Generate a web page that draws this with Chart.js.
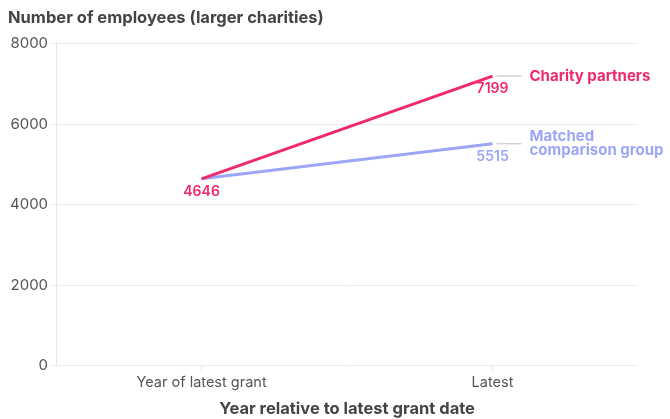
<!DOCTYPE html>
<html>
<head>
<meta charset="utf-8">
<script src="https://cdn.jsdelivr.net/npm/chart.js@4"></script>
<style>
  html, body { margin: 0; padding: 0; background: #fff; }
  #wrap { width: 670px; height: 419px; }
</style>
</head>
<body>
<div id="wrap"><canvas id="employeesChart"></canvas></div>
<script>
const categories = ['Year of latest grant', 'Latest'];
const charityPartners = [4646, 7199];
const matchedGroup = [4646, 5515];
const yTicks = [0, 2000, 4000, 6000, 8000];

const PINK = '#f0296c';
const BLUE = '#9ca6f7';
const FONT = 'Inter, "Open Sans", sans-serif';

// value labels under the points and series names at the right end
const lineLabels = {
    id: 'lineLabels',
    afterDatasetsDraw(chart) {
        const ctx = chart.ctx;
        const x = chart.scales.x;
        const y = chart.scales.y;
        chart.data.datasets.forEach((ds, di) => {
            ctx.save();
            ctx.fillStyle = ds.borderColor;
            ctx.font = '600 14px ' + FONT;
            ctx.textAlign = 'center';
            ctx.textBaseline = 'middle';
            ds.data.forEach((v, i) => {
                if (i === 0 && ds.hideStartLabel) return; // start point shared with partners line
                const px = x.getPixelForValue(i);
                const py = y.getPixelForValue(v);
                ctx.fillText(String(v), px, py + 13);
            });
            // leader line + name
            const last = ds.data.length - 1;
            const ex = x.getPixelForValue(last);
            const ey = y.getPixelForValue(ds.data[last]);
            ctx.strokeStyle = '#bbbbbb';
            ctx.lineWidth = 1;
            ctx.beginPath();
            ctx.moveTo(ex + 4, ey);
            ctx.lineTo(ex + 29, ey);
            ctx.stroke();
            ctx.font = 'bold 15px ' + FONT;
            ctx.textAlign = 'left';
            const lines = ds.nameLines;
            const lh = 14;
            const top = ey - (lines.length - 1) * lh / 2;
            lines.forEach((t, k) => ctx.fillText(t, ex + 37, top + k * lh));
            ctx.restore();
        });
    }
};

new Chart(document.getElementById('employeesChart'), {
    type: 'line',
    data: {
        labels: categories,
        datasets: [
            {
                label: 'Matched comparison group',
                nameLines: ['Matched', 'comparison group'],
                hideStartLabel: true,
                data: matchedGroup,
                borderColor: BLUE,
                borderWidth: 3,
                pointRadius: 0,
                tension: 0,
                order: 2,
            },
            {
                label: 'Charity partners',
                nameLines: ['Charity partners'],
                data: charityPartners,
                borderColor: PINK,
                borderWidth: 3,
                pointRadius: 0,
                tension: 0,
                order: 1,
            },
        ],
    },
    options: {
        responsive: true,
        maintainAspectRatio: false,
        animation: false,
        layout: { padding: { left: 8, right: 32, top: 0, bottom: 0 } },
        plugins: {
            legend: { display: false },
            tooltip: { enabled: false },
            title: {
                display: true,
                text: 'Number of employees (larger charities)',
                align: 'start',
                color: '#444',
                font: { family: FONT, size: 16.5, weight: 'bold' },
                padding: { top: 8, bottom: 16 },
            },
        },
        scales: {
            x: {
                offset: true,
                grid: { drawOnChartArea: false, drawTicks: true, tickLength: 6, color: '#e6e6e6' },
                border: { display: false },
                ticks: { color: '#555', font: { family: FONT, size: 14.5 }, padding: 2 },
                title: {
                    display: true,
                    text: 'Year relative to latest grant date',
                    color: '#444',
                    font: { family: FONT, size: 16.5, weight: 'bold' },
                    padding: { top: 6, bottom: 0 },
                },
            },
            y: {
                min: 0,
                max: 8000,
                afterBuildTicks(axis) {
                    axis.ticks = yTicks.map(v => ({ value: v }));
                },
                grid: { color: '#ececec', tickLength: 6 },
                border: { color: '#e6e6e6' },
                ticks: {
                    color: '#555',
                    font: { family: FONT, size: 15 },
                    padding: 2,
                    callback: v => String(v),
                },
            },
        },
    },
    plugins: [lineLabels],
});
</script>
</body>
</html>
